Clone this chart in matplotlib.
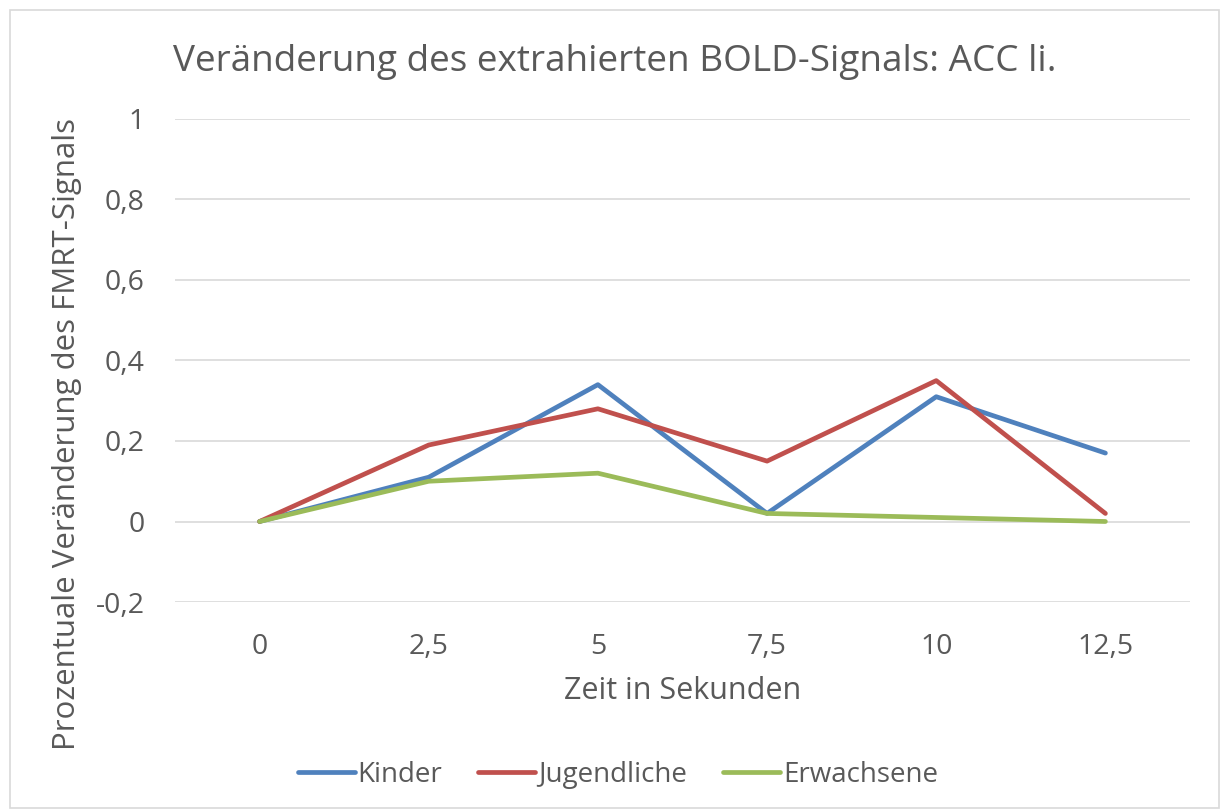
import matplotlib.pyplot as plt
from matplotlib.patches import Rectangle

plt.rcParams["font.family"] = ["Open Sans", "DejaVu Sans"]

# daten
zeit = ["0", "2,5", "5", "7,5", "10", "12,5"]
kinder = [0, 0.11, 0.34, 0.02, 0.31, 0.17]
jugendliche = [0, 0.19, 0.28, 0.15, 0.35, 0.02]
erwachsene = [0, 0.10, 0.12, 0.02, 0.01, 0.00]

y_ticks = [-0.2, 0, 0.2, 0.4, 0.6, 0.8, 1]
y_labels = ["-0,2", "0", "0,2", "0,4", "0,6", "0,8", "1"]

grau = "#595959"

fig = plt.figure(figsize=(12.21, 8.11), dpi=100)
ax = fig.add_axes([0.1433, 0.2577, 0.8313, 0.5956])

x = range(len(zeit))
ax.plot(x, kinder, color="#4f81bd", lw=3.4, label="Kinder", solid_capstyle="round")
ax.plot(x, jugendliche, color="#c0504d", lw=3.4, label="Jugendliche", solid_capstyle="round")
ax.plot(x, erwachsene, color="#9bbb59", lw=3.4, label="Erwachsene", solid_capstyle="round")

ax.set_xlim(-0.5, len(zeit) - 0.5)
ax.set_ylim(-0.2, 1)
ax.set_xticks(list(x))
ax.set_xticklabels(zeit)
ax.set_yticks(y_ticks)
ax.set_yticklabels(y_labels)
ax.tick_params(length=0, labelsize=20.5, colors=grau)
ax.tick_params(axis="x", pad=22)
ax.tick_params(axis="y", pad=22)
ax.grid(axis="y", color="#d9d9d9", lw=1.2)
ax.set_axisbelow(True)
for s in ax.spines.values():
    s.set_visible(False)

ax.set_xlabel("Zeit in Sekunden", fontsize=22, color=grau, labelpad=11)
ax.set_ylabel("Prozentuale Veränderung des FMRT-Signals", fontsize=22.5, color=grau)
ax.yaxis.set_label_coords(-0.092, 0.348)

fig.text(0.142, 0.923, "Veränderung des extrahierten BOLD-Signals: ACC li.",
         fontsize=26.6, color=grau, va="center", ha="left")

leg = fig.legend(loc="center", bbox_to_anchor=(0.506, 0.045), ncol=3, frameon=False,
                 fontsize=20, handlelength=2.05, handletextpad=0.1, columnspacing=1.3)
for t in leg.get_texts():
    t.set_color(grau)

# rahmen
fig.patches.append(Rectangle((0.008, 0.004), 0.99, 0.984, transform=fig.transFigure,
                             fill=False, edgecolor="#d9d9d9", lw=1.2))

fig.savefig("out.png", dpi=100)
